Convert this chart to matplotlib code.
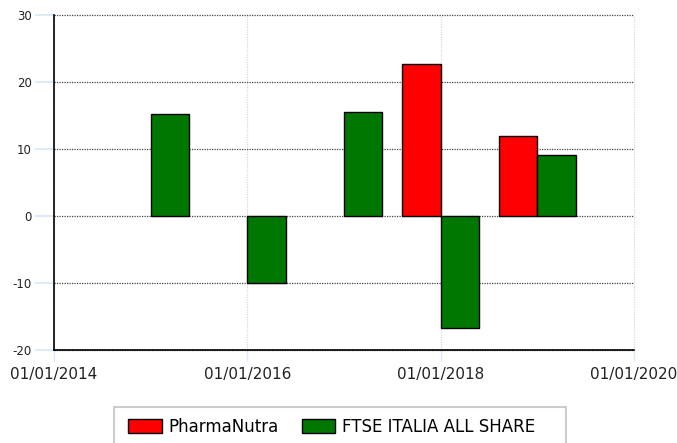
import matplotlib
matplotlib.use('Agg')
import matplotlib.pyplot as plt
from matplotlib.patches import Rectangle
import numpy as np

# dati (rendimento annuo %)
years = [2015, 2016, 2017, 2018, 2019]
pharmanutra = [np.nan, np.nan, np.nan, 22.7, 11.9]
ftse = [15.2, -10.0, 15.5, -16.7, 9.1]
xticks = [2014, 2016, 2018, 2020]
xlabels = ['01/01/2014', '01/01/2016', '01/01/2018', '01/01/2020']
yticks = [-20, -10, 0, 10, 20, 30]

plt.rcParams['font.family'] = ['DejaVu Sans']

fig = plt.figure(figsize=(6.77, 4.43), dpi=100)
ax = fig.add_axes([54 / 677, 1 - 350 / 443, 580 / 677, 335 / 443])

w = 0.395
ax.bar(years, pharmanutra, width=-w, align='edge', color='#ff0000',
       edgecolor='black', linewidth=1, label='PharmaNutra', zorder=3)
ax.bar(years, ftse, width=w, align='edge', color='#007700',
       edgecolor='black', linewidth=1, label='FTSE ITALIA ALL SHARE', zorder=3)

ax.set_xlim(2014, 2020)
ax.set_ylim(-20, 30)
ax.set_xticks(xticks)
ax.set_xticklabels(xlabels, fontsize=11, color='#222222')
ax.set_yticks(yticks)
ax.set_yticklabels([str(v) for v in yticks], fontsize=8.5, color='#222222')

ax.yaxis.grid(True, linestyle=(0, (1, 1)), color='#444444', linewidth=0.9, zorder=0)
ax.xaxis.grid(True, linestyle=(0, (1, 1)), color='#c8dcf0', linewidth=0.9, zorder=0)
for gl in ax.get_xgridlines() + ax.get_ygridlines():
    gl.set_clip_on(False)

for s in ['top', 'right']:
    ax.spines[s].set_visible(False)
ax.spines['left'].set_color('black')
ax.spines['bottom'].set_color('black')
ax.spines['left'].set_linewidth(1.2)
ax.spines['bottom'].set_linewidth(1.2)
ax.tick_params(axis='y', length=14, color='#ddeaf7', width=1.5, pad=2)
ax.tick_params(axis='x', length=8, color='#ddeaf7', width=1, pad=4)

# cornice della legenda (tagliata in basso come nell'originale)
fig.patches.append(Rectangle((114 / 677, -0.02), 452 / 677, 1 - 407 / 443 + 0.02,
                             transform=fig.transFigure, facecolor='white',
                             edgecolor='#cccccc', linewidth=1.5, zorder=1))

leg = fig.legend(loc='center left', bbox_to_anchor=(120 / 677, 1 - 427 / 443),
                 ncol=2, fontsize=12, frameon=False, borderpad=0,
                 handlelength=2.0, handleheight=0.9, handletextpad=0.4,
                 columnspacing=1.4)

fig.savefig('out.png', dpi=100)
